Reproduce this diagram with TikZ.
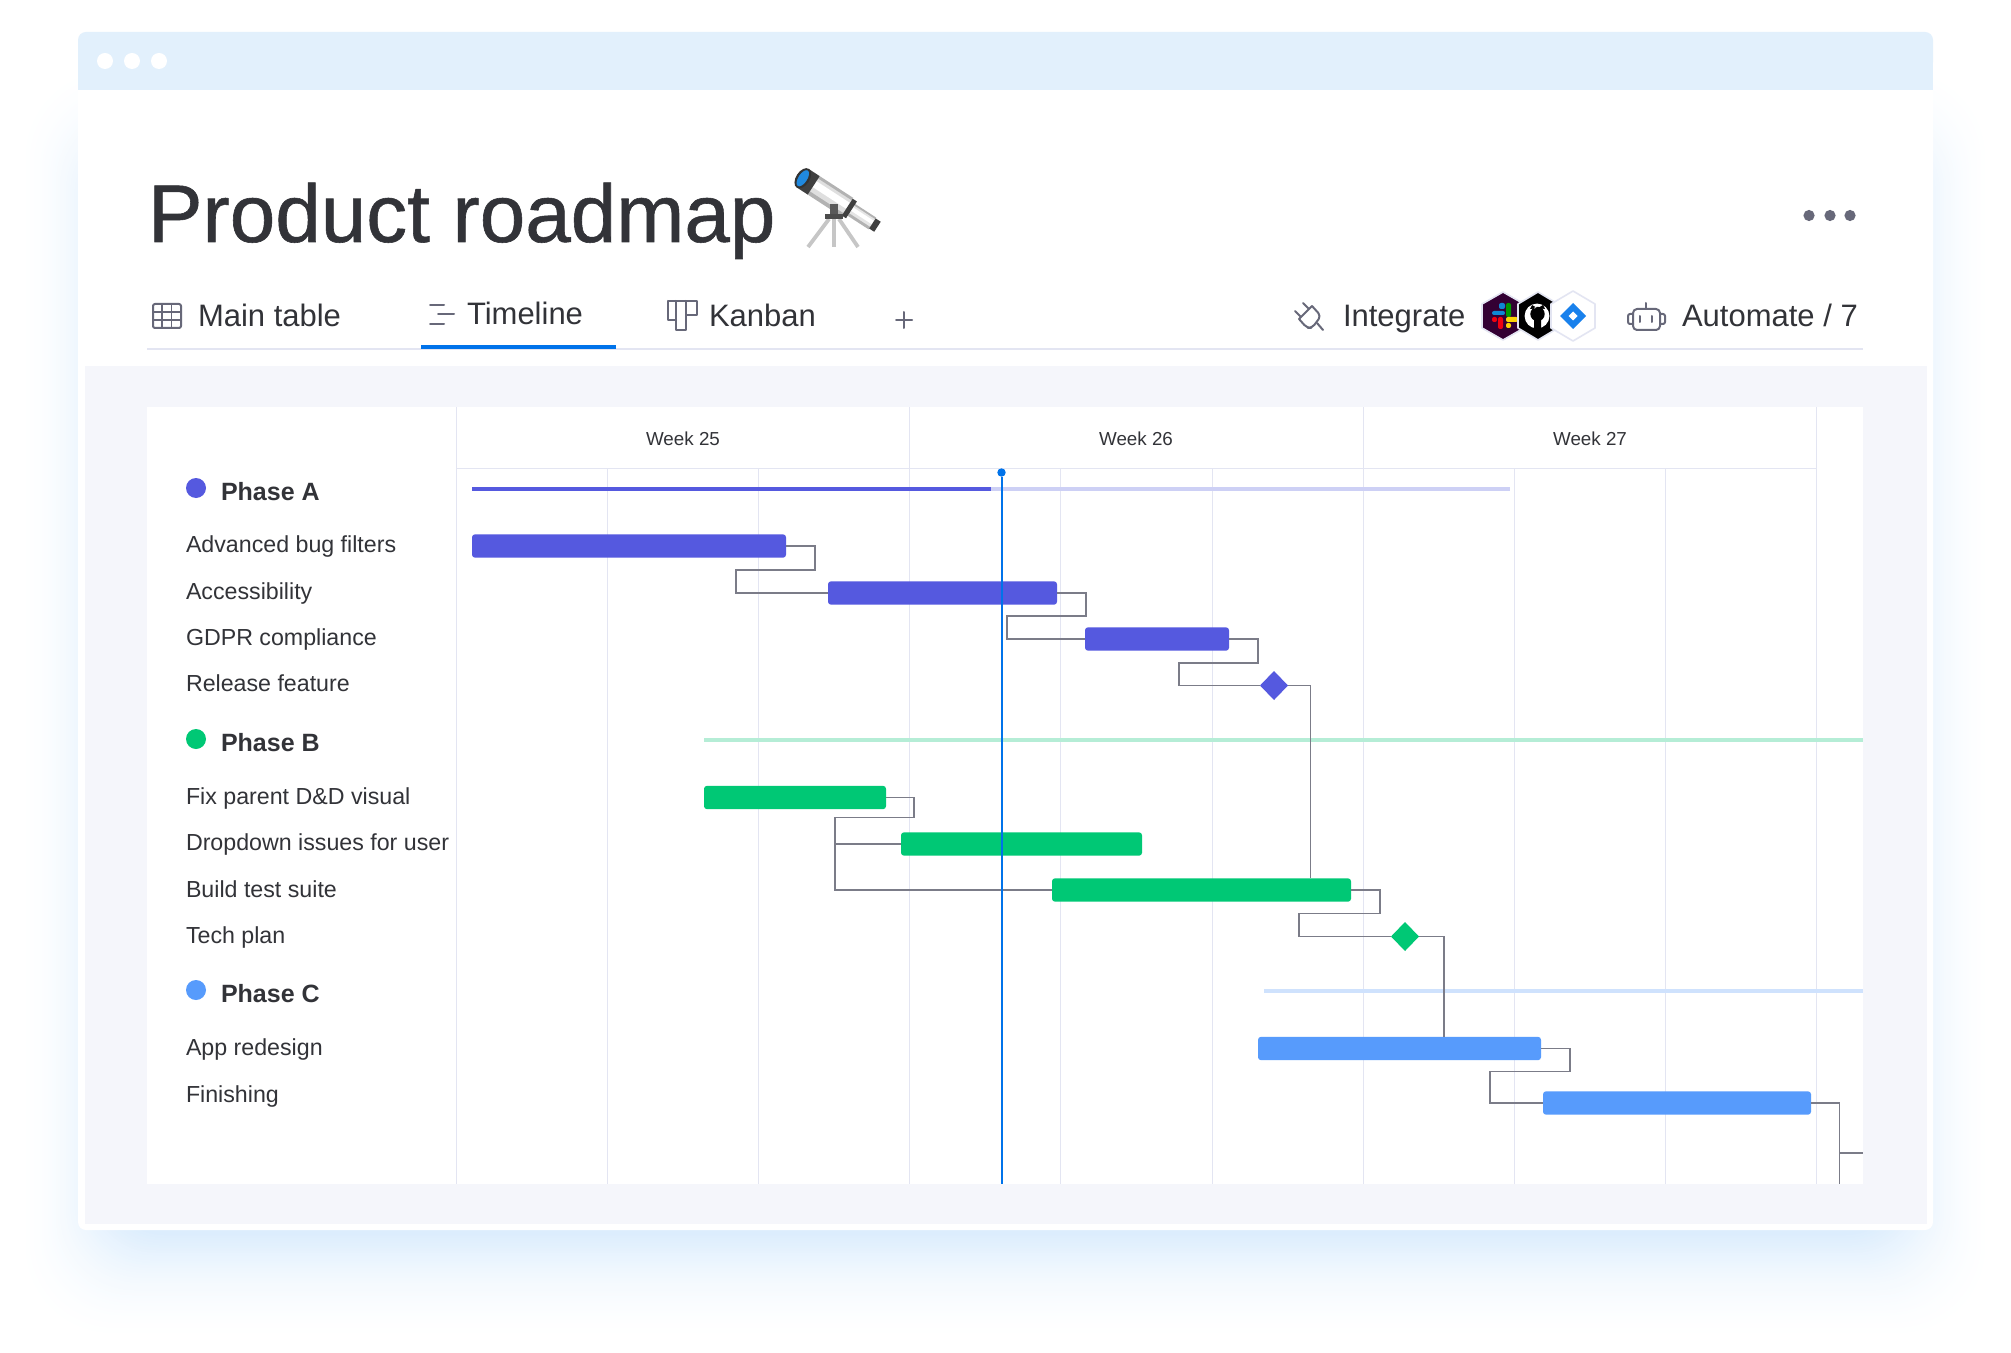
\documentclass[tikz,border=0pt]{standalone}
\usepackage{fontspec}
\setmainfont{Liberation Sans}
\newfontfamily\headfont[FakeBold=0.7]{Liberation Sans}
\usetikzlibrary{shapes.geometric,positioning}

\definecolor{inkdark}{HTML}{323338}
\definecolor{inkgray}{HTML}{676879}
\definecolor{linkgray}{HTML}{7B7C88}
\definecolor{gridline}{HTML}{E3E5F2}
\definecolor{topbar}{HTML}{E2F0FC}
\definecolor{panel}{HTML}{F5F6FB}
\definecolor{glow}{HTML}{DCEDFD}
\definecolor{today}{HTML}{0073EA}
\definecolor{phasea}{HTML}{5559DF}
\definecolor{phaseb}{HTML}{00C875}
\definecolor{phasec}{HTML}{579BFC}
\definecolor{phasealt}{HTML}{CDD0F5}
\definecolor{phasebl}{HTML}{B5EDD6}
\definecolor{phasecl}{HTML}{CFE2FD}

\tikzset{
  every node/.style={inner sep=0,outer sep=0},
  txt/.style={anchor=base west,text=inkdark},
  titletext/.style={txt,font=\fontsize{40.9}{50}\headfont},
  tabtext/.style={txt,font=\fontsize{15.5}{18}\selectfont},
  tasktext/.style={txt,font=\fontsize{11.6}{14}\selectfont},
  phasetext/.style={txt,font=\fontsize{12.5}{15}\selectfont\bfseries},
  weektext/.style={anchor=base,text=inkdark,font=\fontsize{9.4}{12}\selectfont},
  bar/.style={rectangle,anchor=west,rounded corners=1.5pt,minimum height=11.7pt},
  wide/.style={minimum width=#1*0.5pt},
  milestone/.style={diamond,minimum width=14pt,minimum height=14.5pt,aspect=1},
  phasedot/.style={circle,minimum size=10pt},
  link/.style={draw=linkgray,line width=0.8pt},
  icon/.style={draw=inkgray,line width=1pt,line cap=round,line join=round},
  hexa/.style={line width=0.8pt,draw=gridline,line join=round},
}

\begin{document}
\begin{tikzpicture}[x=0.5pt,y=-0.5pt]
  \useasboundingbox (0,0) rectangle (2011,1353);
  \fill[white] (0,0) rectangle (2011,1353);

  % soft glow behind the card
  \foreach \i in {0,...,44} {
    \pgfmathsetmacro{\f}{\i/44}
    \pgfmathsetmacro{\p}{100*\f*\f}
    \pgfmathsetmacro{\r}{45-15*\f}
    \fill[glow!\p!white,rounded corners=\r pt]
      (16+89*\f,60+100*\f) rectangle (1995-90*\f,1345-110*\f);
  }

  % card
  \fill[white,rounded corners=4pt] (78,32) rectangle (1933,1230);
  \fill[topbar,rounded corners=4pt] (78,32) rectangle (1933,70);
  \fill[topbar] (78,50) rectangle (1933,90);
  \fill[panel] (85,366) rectangle (1927,1224);
  \fill[white] (147,407) rectangle (1863,1184);
  \foreach \x in {105,132,159}
    \fill[white] (\x,61) circle (4pt);

  % title
  \node[titletext] (title) at (148,242) {Product roadmap};
  \foreach \x in {1809,1830,1850}
    \fill[inkgray] (\x,215.5) circle (2.8pt);

  % telescope
  \begin{scope}[shift={(807,181)},rotate=-33]
    \fill[gray!60] (8,-11) rectangle (48,11);
    \fill[gray!25] (8,-8) rectangle (48,7);
    \fill[white] (8,-5) rectangle (48,2);
    \fill[gray!60] (53,-7) rectangle (78,7);
    \fill[gray!20] (53,-5) rectangle (78,4);
    \fill[white] (53,-3) rectangle (78,1);
    \fill[black!75] (-5,-11) rectangle (8,11);
    \fill[black!75] (48,-10) rectangle (53,10);
    \fill[black!75] (78,-6) rectangle (84,6);
    \fill[black!80] (-5,0) ellipse (3.4pt and 5.6pt);
    \fill[blue!45!cyan!75!gray] (-5,0) ellipse (2.2pt and 4.6pt);
  \end{scope}
  \draw[gray!45,line width=1.9pt] (829,219) -- (808,247);
  \draw[gray!45,line width=2.4pt] (834,219) -- (834,247);
  \draw[gray!45,line width=1.9pt] (839,219) -- (858,247);
  \fill[black!65] (830,204) rectangle (838,215);
  \fill[black!70] (825,214) rectangle (843,219);

  % tabs
  \node[tabtext] (tab_main) at (198,326.5) {Main table};
  \node[tabtext] (tab_time) at (467,324.5) {Timeline};
  \node[tabtext] (tab_kan) at (709,326.5) {Kanban};
  \node[tabtext] (tab_int) at (1343,327) {Integrate};
  \node[tabtext] (tab_auto) at (1682,327) {Automate / 7};

  % tab icons
  \draw[icon,rounded corners=1pt] (153,304) rectangle (181,328);
  \draw[icon,line width=0.8pt] (153,312) -- (181,312) (153,320) -- (181,320)
    (162,304) -- (162,328) (171.5,304) -- (171.5,328);
  \draw[icon] (430,305) -- (444,305) (438,314) -- (454,314) (430,324) -- (444,324);
  \draw[icon] (668,301) -- (697,301) -- (697,315) -- (686,315)
    (686,301) -- (686,330) -- (676,330) -- (676,301)
    (676,320) -- (668,320) -- (668,301);
  \draw[icon] (896,320) -- (912,320) (904,312) -- (904,328);
  \draw[icon,rounded corners=2pt] (1312,306) -- (1321,316) -- (1312,328) -- (1307,328) -- (1299,319);
  \draw[icon] (1299,319) -- (1312,306) (1303,303) -- (1309,309) (1295,311) -- (1301,317) (1317,323) -- (1323,330);
  \draw[icon,rounded corners=2pt] (1633,309) rectangle (1660,330);
  \draw[icon] (1646,303) -- (1646,309) (1640,316) -- (1640,322) (1652,316) -- (1652,322);
  \draw[icon,rounded corners=1pt] (1633,314) -- (1628,314) -- (1628,324) -- (1633,324)
    (1660,314) -- (1665,314) -- (1665,324) -- (1660,324);

  % integration badges
  \filldraw[hexa,fill=black!20!violet!50!black] (1503,292) -- (1524,304) -- (1524,328) -- (1503,340) -- (1482,328) -- (1482,304) -- cycle;
  \fill[cyan!70!blue,rounded corners=1pt] (1492,311) rectangle (1505,315) (1499,303) rectangle (1505,309);
  \fill[green!60!black,rounded corners=1pt] (1506,303) rectangle (1511,317);
  \fill[red!75!purple,rounded corners=1pt] (1492,317) rectangle (1497,322) (1498,317) rectangle (1503,329);
  \fill[yellow!85!red,rounded corners=1pt] (1506,317) rectangle (1518,322) (1506,323) rectangle (1511,328);
  \filldraw[hexa,fill=black] (1538,292) -- (1558,304) -- (1558,328) -- (1538,340) -- (1518,328) -- (1518,304) -- cycle;
  \fill[white] (1537,316) circle (6.2pt);
  \fill[black] (1537.5,314) circle (3.6pt) (1530,309) -- (1532,305) -- (1537,308) -- cycle
    (1545,309) -- (1543,305) -- (1538,308) -- cycle (1534,316) rectangle (1541,330);
  \filldraw[hexa,fill=white] (1573,291) -- (1595,304) -- (1595,328) -- (1573,341) -- (1551,328) -- (1551,304) -- cycle;
  \fill[today!90!white] (1573,303) -- (1586,316) -- (1573,329) -- (1560,316) -- cycle;
  \fill[white] (1573,311.5) -- (1577.5,316) -- (1573,320.5) -- (1568.5,316) -- cycle;

  % tab rule
  \draw[gridline,line width=1pt] (147,349) -- (1863,349);
  \fill[today] (421,345) rectangle (616,349);

  % grid
  \foreach \x in {607,758,909,1060,1212,1363,1514,1665,1816}
    \draw[gridline,line width=0.5pt] (\x,468) -- (\x,1184);
  \foreach \x in {456,909,1363,1816}
    \draw[gridline,line width=0.5pt] (\x,407) -- (\x,468);
  \draw[gridline,line width=0.7pt] (456,468.5) -- (1816,468.5);
  \draw[gridline,line width=0.6pt] (456.5,468) -- (456.5,1184);
  \node[weektext] (week_25) at (683,445) {Week 25};
  \node[weektext] (week_26) at (1136,445) {Week 26};
  \node[weektext] (week_27) at (1590,445) {Week 27};

  % phase spans
  \fill[phasealt] (991,486.5) rectangle (1510,490.5);
  \fill[phasea] (472,486.5) rectangle (991,490.5);
  \fill[phasebl] (704,737.5) rectangle (1863,741.5);
  \fill[phasecl] (1264,988.5) rectangle (1863,992.5);

  % labels
  \node[phasedot,fill=phasea] (dot_a) at (196,488) {};
  \node[phasetext] (phase_a) at (221,500) {Phase A};
  \node[tasktext] (task_a1) at (186,552.5) {Advanced bug filters};
  \node[tasktext] (task_a2) at (186,599) {Accessibility};
  \node[tasktext] (task_a3) at (186,645.5) {GDPR compliance};
  \node[tasktext] (task_a4) at (186,691.5) {Release feature};
  \node[phasedot,fill=phaseb] (dot_b) at (196,739) {};
  \node[phasetext] (phase_b) at (221,751.5) {Phase B};
  \node[tasktext] (task_b1) at (186,804.5) {Fix parent D\&D visual};
  \node[tasktext] (task_b2) at (186,850.5) {Dropdown issues for user};
  \node[tasktext] (task_b3) at (186,897) {Build test suite};
  \node[tasktext] (task_b4) at (186,943.5) {Tech plan};
  \node[phasedot,fill=phasec] (dot_c) at (196,990) {};
  \node[phasetext] (phase_c) at (221,1002.5) {Phase C};
  \node[tasktext] (task_c1) at (186,1055.5) {App redesign};
  \node[tasktext] (task_c2) at (186,1102) {Finishing};

  % bars
  \node[bar,wide=314,fill=phasea] (bar_a1) at (472,546) {};
  \node[bar,wide=229,fill=phasea] (bar_a2) at (828,593) {};
  \node[bar,wide=144,fill=phasea] (bar_a3) at (1085,639) {};
  \node[milestone,fill=phasea] (mile_a) at (1274,685.5) {};
  \node[bar,wide=182,fill=phaseb] (bar_b1) at (704,797.5) {};
  \node[bar,wide=241,fill=phaseb] (bar_b2) at (901,844) {};
  \node[bar,wide=299,fill=phaseb] (bar_b3) at (1052,890) {};
  \node[milestone,fill=phaseb] (mile_b) at (1405,936.5) {};
  \node[bar,wide=283,fill=phasec] (bar_c1) at (1258,1048.5) {};
  \node[bar,wide=268,fill=phasec] (bar_c2) at (1543,1103) {};
  \coordinate (edge_end) at (1863,1153);
  \coordinate (edge_low) at (1839.5,1184);

  % dependencies
  \draw[link] (bar_a1.east) -- ++(29,0) -- ++(0,24) -- ++(-79,0) |- (bar_a2.west);
  \draw[link] (bar_a2.east) -- ++(29,0) -- ++(0,23) -- ++(-79,0) |- (bar_a3.west);
  \draw[link] (bar_a3.east) -- ++(29,0) -- ++(0,24) -- ++(-79,0) |- (mile_a.west);
  \draw[link] (mile_a.east) -| ([xshift=54.5pt]bar_b3.north);
  \draw[link] (bar_b1.east) -- ++(28,0) -- ++(0,20) -- ++(-79,0) |- (bar_b3.west);
  \draw[link] (bar_b2.west) -- ++(-66,0);
  \draw[link] (bar_b3.east) -- ++(29,0) -- ++(0,23.5) -- ++(-81,0) |- (mile_b.west);
  \draw[link] (mile_b.east) -| ([xshift=22.25pt]bar_c1.north);
  \draw[link] (bar_c1.east) -- ++(29,0) -- ++(0,23) -- ++(-80,0) |- (bar_c2.west);
  \draw[link] (bar_c2.east) -- ++(28.5,0) -- (edge_low);
  \draw[link] (edge_low |- edge_end) -- (edge_end);

  % today marker
  \node[circle,fill=today,minimum size=4.2pt] (today_dot) at (1001.5,472.5) {};
  \coordinate (today_end) at (1001.5,1184);
  \draw[today,line width=1pt] (today_dot) -- (today_end);
\end{tikzpicture}
\end{document}
